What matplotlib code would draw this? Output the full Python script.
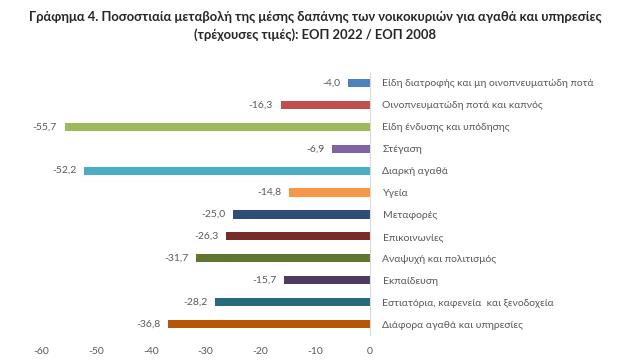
import matplotlib
matplotlib.use("Agg")
import matplotlib.pyplot as plt

categories = [
    "Είδη διατροφής και μη οινοπνευματώδη ποτά",
    "Οινοπνευματώδη ποτά και καπνός",
    "Είδη ένδυσης και υπόδησης",
    "Στέγαση",
    "Διαρκή αγαθά",
    "Υγεία",
    "Μεταφορές",
    "Επικοινωνίες",
    "Αναψυχή και πολιτισμός",
    "Εκπαίδευση",
    "Εστιατόρια, καφενεία  και ξενοδοχεία",
    "Διάφορα αγαθά και υπηρεσίες",
]
values = [-4.0, -16.3, -55.7, -6.9, -52.2, -14.8, -25.0, -26.3, -31.7, -15.7, -28.2, -36.8]
colors = ["#4F81BD", "#C0504D", "#9BBB59", "#8064A2", "#4BACC6", "#F79646",
          "#2C4D75", "#772C2A", "#5F7530", "#4D3B62", "#276A7C", "#B65708"]
xticks = [-60, -50, -40, -30, -20, -10, 0]
title = ("Γράφημα 4. Ποσοστιαία μεταβολή της μέσης δαπάνης των νοικοκυριών για αγαθά και υπηρεσίες\n"
         "(τρέχουσες τιμές): ΕΟΠ 2022 / ΕΟΠ 2008")

plt.rcParams['font.family'] = ['Lato', 'DejaVu Sans']
gray = "#595959"

fig = plt.figure(figsize=(6.3, 3.6), dpi=100)
ax = fig.add_axes([41/630, 1 - 335/360, (370 - 41)/630, (335 - 72)/360])

n = len(categories)
ypos = list(range(n))
ax.barh(ypos, values, height=0.37, color=colors)
ax.set_ylim(n - 0.5, -0.5)
ax.set_xlim(-60, 0)

for y, v in zip(ypos, values):
    ax.annotate(f"{v:.1f}".replace(".", ","), xy=(v, y), xytext=(-5.5, 0),
                textcoords="offset points", ha="right", va="center",
                fontsize=7.5, color=gray)

ax.set_xticks(xticks)
ax.set_xticklabels([str(t) for t in xticks], fontsize=7.5, color=gray)
ax.tick_params(axis="x", length=0, pad=9)

ax.yaxis.tick_right()
ax.set_yticks(ypos)
ax.set_yticklabels(categories, fontsize=7.5, color=gray)
ax.tick_params(axis="y", length=0, pad=9)

for s in ["top", "left", "bottom"]:
    ax.spines[s].set_visible(False)
ax.spines["right"].set_color("#D9D9D9")
ax.spines["right"].set_linewidth(0.8)

fig.text(315/630, 1 - 26/360, title, ha="center", va="center",
         fontsize=9.4, fontweight="bold", color="#262626", linespacing=1.5)

fig.savefig("out.png", dpi=100)
